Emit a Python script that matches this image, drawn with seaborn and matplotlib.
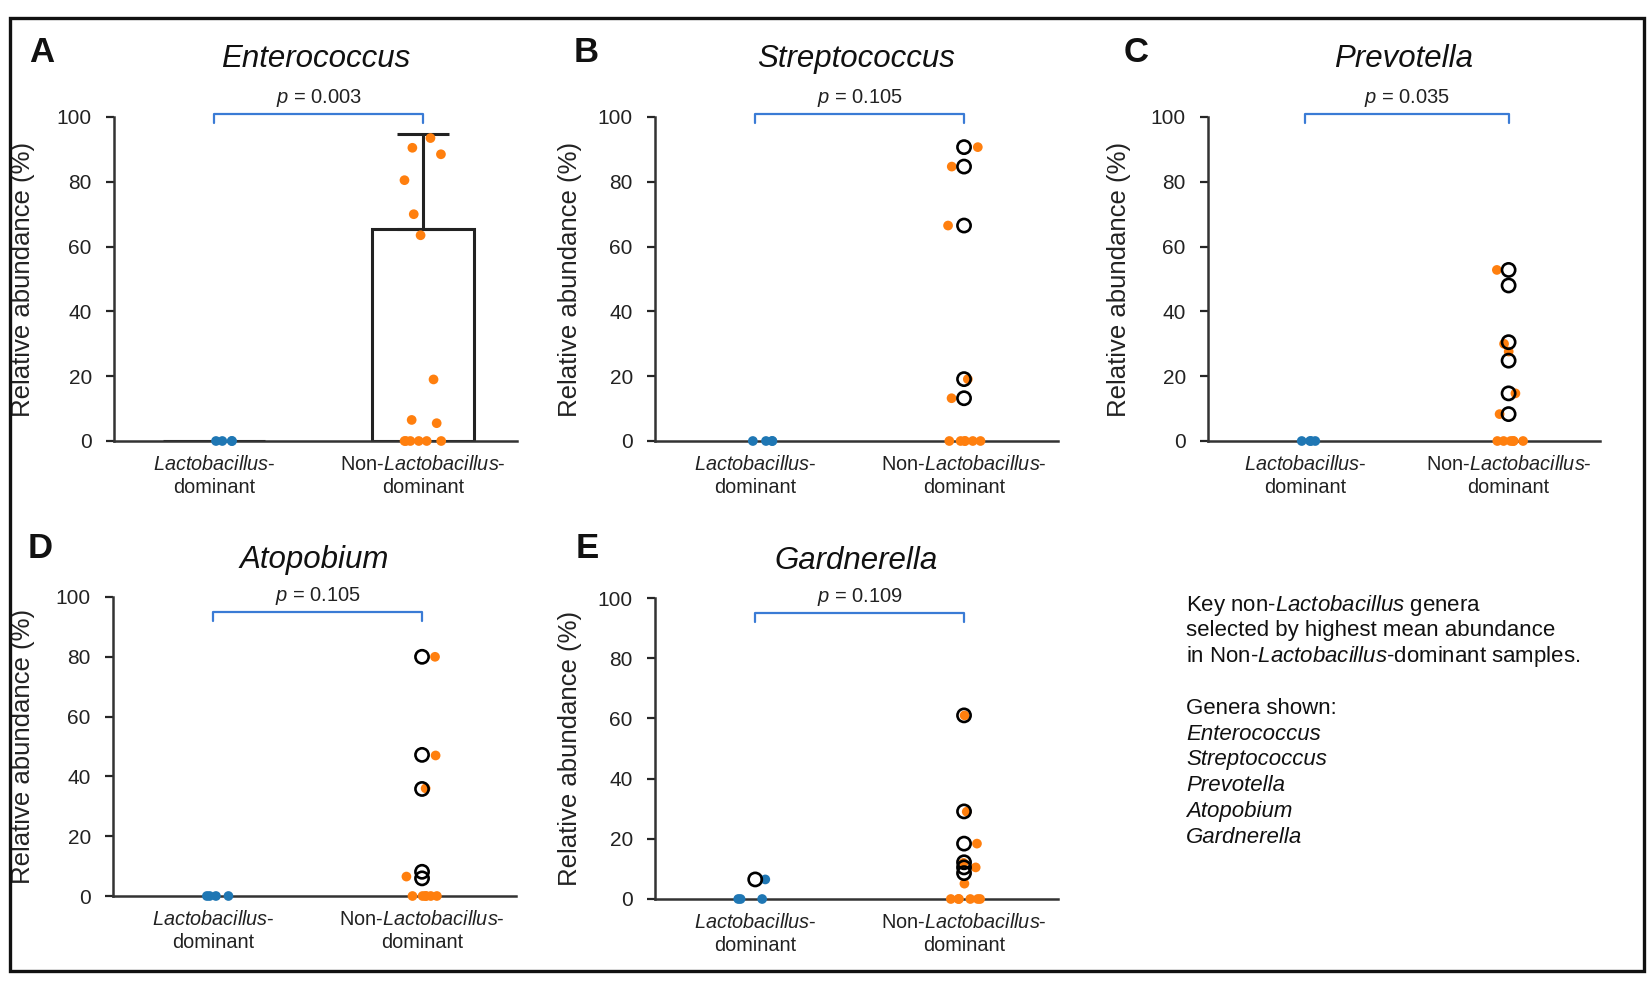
import numpy as np
import pandas as pd
from matplotlib import pyplot as plt
from matplotlib.patches import Rectangle
import seaborn as sns

sns.set_theme(style="ticks")
plt.rcParams["font.family"] = ["Liberation Sans", "DejaVu Sans"]
plt.rcParams["mathtext.fontset"] = "custom"
plt.rcParams["mathtext.rm"] = "Liberation Sans"
plt.rcParams["mathtext.it"] = "Liberation Sans:italic"

groups = ["Lactobacillus-dominant", "Non-Lactobacillus-dominant"]
group_labels = ["$\\mathit{Lactobacillus}$-\ndominant", "Non-$\\mathit{Lactobacillus}$-\ndominant"]
genera = ["Enterococcus", "Streptococcus", "Prevotella", "Atopobium", "Gardnerella"]
letters = ["A", "B", "C", "D", "E"]
p_values = ["0.003", "0.105", "0.035", "0.105", "0.109"]

# sample dots (filled) per genus
entero_lacto = [0, 0, 0, 0]
entero_non = [93.5, 90.5, 88.5, 80.5, 70.0, 63.5, 19.0, 6.5, 5.5, 0, 0, 0, 0, 0, 0]
strep_lacto = [0, 0, 0, 0]
strep_non = [90.7, 84.7, 66.5, 19.1, 13.2, 0, 0, 0, 0, 0, 0]
prevo_lacto = [0, 0, 0, 0]
prevo_non = [52.8, 30.0, 27.6, 14.7, 8.3, 0, 0, 0, 0, 0, 0]
atopo_lacto = [0, 0, 0, 0]
atopo_non = [80.0, 47.0, 36.0, 6.5, 0, 0, 0, 0, 0, 0]
gard_lacto = [6.5, 0, 0, 0]
gard_non = [61.0, 29.0, 18.4, 12.0, 10.5, 5.1, 0, 0, 0, 0, 0, 0]

# open circles per genus (Non-Lactobacillus group unless noted)
strep_open = [90.7, 84.7, 66.5, 19.1, 13.2]
prevo_open = [52.8, 48.0, 30.5, 24.8, 14.7, 8.3]
atopo_open = [80.0, 47.2, 35.8, 8.1, 5.9]
gard_open_lacto = [6.5]
gard_open = [61.0, 29.1, 18.4, 12.2, 10.5, 8.6]

# bar (mean) and upper SD, Enterococcus only
entero_bar_mean = [0.0, 65.3]
entero_bar_sd = [0.0, 29.4]

dots = [(entero_lacto, entero_non), (strep_lacto, strep_non), (prevo_lacto, prevo_non),
        (atopo_lacto, atopo_non), (gard_lacto, gard_non)]
opens = [([], []), ([], strep_open), ([], prevo_open), ([], atopo_open), (gard_open_lacto, gard_open)]

W, H = 1652, 990
fig = plt.figure(figsize=(W / 100, H / 100), dpi=100)

# (left, right, top, bottom) in pixels
boxes = [(114, 517, 117, 441), (655, 1058, 117, 441), (1208, 1600, 117, 441),
         (113, 516, 597, 896), (655, 1058, 598, 899)]
ylabel_x = [35, 582, 1131, 35, 582]
letter_pos = [(42, 53), (586, 53), (1136, 53), (40, 548), (587, 548)]

palette = ["#1f77b4", "#ff7f0e"]
np.random.seed(4)

for i, (l, r, t, b) in enumerate(boxes):
    ax = fig.add_axes([l / W, 1 - b / H, (r - l) / W, (b - t) / H])
    lacto, non = dots[i]
    df = pd.DataFrame({"group": [groups[0]] * len(lacto) + [groups[1]] * len(non),
                       "value": lacto + non})
    if i == 0:
        bars = pd.DataFrame({"group": groups, "value": entero_bar_mean})
        sns.barplot(data=bars, x="group", y="value", order=groups, fill=False,
                    edgecolor="#222222", linewidth=2.2, width=0.49, errorbar=None, ax=ax)
        ax.errorbar([1], [entero_bar_mean[1]], yerr=[[0], [entero_bar_sd[1]]], fmt="none",
                    ecolor="#222222", elinewidth=2.2, capsize=19, capthick=2.2, zorder=3)
    sns.stripplot(data=df, x="group", y="value", hue="group", order=groups, hue_order=groups,
                  palette=palette, jitter=0.09, size=7, linewidth=0, legend=False,
                  clip_on=False, zorder=4, ax=ax)
    ol, on = opens[i]
    if ol or on:
        odf = pd.DataFrame({"group": [groups[0]] * len(ol) + [groups[1]] * len(on),
                            "value": ol + on})
        sns.stripplot(data=odf, x="group", y="value", order=groups, jitter=False,
                      color="none", edgecolor="black", linewidth=1.9, size=9.5,
                      zorder=5, ax=ax)

    ax.set_xlim(-0.48, 1.45)
    ax.set_ylim(0, 100)
    ax.set_yticks(range(0, 101, 20))
    ax.set_xticks([0, 1], group_labels)
    ax.tick_params(axis="x", length=0, pad=10, labelsize=14.3, labelcolor="#222222")
    ax.tick_params(axis="y", length=6, width=1.6, pad=10, labelsize=15, labelcolor="#222222")
    for lab in ax.get_xticklabels():
        lab.set_linespacing(1.3)
    ax.set_xlabel("")
    ax.set_ylabel("Relative abundance (%)", fontsize=18.5, color="#222222")
    ax.yaxis.set_label_coords((ylabel_x[i] - l) / (r - l), 0.5)
    sns.despine(ax=ax)
    for s in ("left", "bottom"):
        ax.spines[s].set_linewidth(1.8)
        ax.spines[s].set_color("#333333")

    # significance bracket
    if i < 3:
        yb, yl, yt = 101.0, 98.0, 105.8
        ty = 1.178
    else:
        yb, yl, yt = 95.0, 92.0, 100.2
        ty = 1.124
    ax.plot([0, 0, 1, 1], [yl, yb, yb, yl], color="#3a7bd5", lw=1.6, clip_on=False)
    ax.text(0.5, yt, "$\\mathit{p}$ = " + p_values[i], ha="center", va="center",
            fontsize=14.5, color="#222222", clip_on=False)
    ax.text(0.5, ty, genera[i], transform=ax.transAxes, ha="center", va="center",
            fontsize=22.5, style="italic", color="#111111")
    lx, ly = letter_pos[i]
    fig.text(lx / W, 1 - ly / H, letters[i], ha="center", va="center",
             fontsize=25, fontweight="bold", color="#111111")

# note text block
note_lines = ["Key non-$\\mathit{Lactobacillus}$ genera",
              "selected by highest mean abundance",
              "in Non-$\\mathit{Lactobacillus}$-dominant samples.",
              "",
              "Genera shown:"] + genera
y0, step = 605, 25.8
for k, line in enumerate(note_lines):
    if not line:
        continue
    italic = k >= 5
    fig.text(1186 / W, 1 - (y0 + k * step) / H, line, ha="left", va="center",
             fontsize=16, style="italic" if italic else "normal", color="#111111")

fig.add_artist(Rectangle((10 / W, 1 - 971 / H), (1644 - 10) / W, (971 - 18) / H,
                         transform=fig.transFigure, fill=False, lw=2.4, ec="#111111"))

fig.savefig("out.png", dpi=100, facecolor="white")
